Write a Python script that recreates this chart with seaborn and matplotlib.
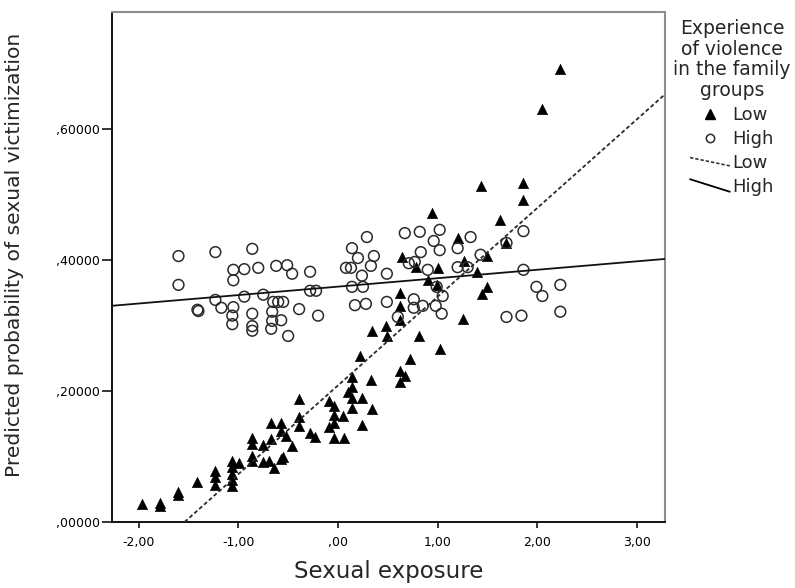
import numpy as np
import pandas as pd
import matplotlib
matplotlib.use("Agg")
import matplotlib.pyplot as plt
import seaborn as sns
from matplotlib.lines import Line2D
from matplotlib.legend_handler import HandlerBase

# ---------------- data ----------------
high_x = [-1.60, -1.60, -1.23, -0.86, -1.41, -1.23, -1.17, -1.05, -0.94, -0.80,
          -0.62, -0.51, -0.46, -0.28, -1.05, -1.05, -1.06, -1.06, -0.94, -0.86,
          -0.86, -0.75, -0.66, -0.66, -0.67, -0.65, -0.60, -0.55, -0.57, -0.50,
          -0.39, -0.28, -0.22, -0.20, 0.14, 0.20, 0.36, 0.29, 0.08, 0.13,
          0.33, 0.24, 0.14, 0.25, 0.17, 0.28, 0.49, 0.49, 0.67, 0.82,
          1.02, 0.96, 1.02, 0.83, 0.77, 0.71, 0.90, 0.99, 1.05, 0.76,
          0.76, 0.85, 0.98, 1.04, 0.60, 1.20, 1.33, 1.20, 1.30, 1.43,
          1.69, 1.86, 1.86, 1.99, 2.05, 2.23, 2.23, 1.69, 1.84, -1.40,
          -0.86]
high_y = [0.406, 0.362, 0.412, 0.417, 0.324, 0.339, 0.327, 0.385, 0.386, 0.388,
          0.391, 0.392, 0.379, 0.382, 0.369, 0.328, 0.315, 0.302, 0.344, 0.318,
          0.292, 0.347, 0.321, 0.307, 0.295, 0.336, 0.336, 0.336, 0.308, 0.284,
          0.325, 0.353, 0.353, 0.315, 0.418, 0.403, 0.406, 0.435, 0.388, 0.388,
          0.391, 0.376, 0.359, 0.359, 0.331, 0.333, 0.379, 0.336, 0.441, 0.443,
          0.446, 0.429, 0.415, 0.412, 0.397, 0.395, 0.385, 0.359, 0.345, 0.340,
          0.327, 0.330, 0.330, 0.318, 0.313, 0.418, 0.435, 0.389, 0.389, 0.408,
          0.426, 0.444, 0.385, 0.359, 0.345, 0.362, 0.321, 0.313, 0.315, 0.322,
          0.299]

low_x = [-1.97, -1.79, -1.79, -1.60, -1.60, -1.41, -1.23, -1.23, -1.23, -1.06,
         -1.06, -1.06, -1.06, -1.06, -0.99, -0.86, -0.86, -0.75, -0.86, -0.86,
         -0.75, -0.69, -0.64, -0.67, -0.57, -0.67, -0.57, -0.57, -0.52, -0.46,
         -0.55, -0.39, -0.39, -0.39, -0.28, -0.23, -0.09, -0.04, -0.04, 0.05,
         -0.04, -0.09, -0.04, 0.06, 0.14, 0.33, 0.14, 0.10, 0.14, 0.24,
         0.14, 0.34, 0.24, 0.22, 0.72, 0.62, 0.67, 0.62, 0.34, 0.48,
         0.49, 0.81, 1.02, 0.62, 0.62, 0.62, 0.64, 0.78, 1.00, 0.90,
         0.99, 0.94, 1.20, 1.26, 1.39, 1.49, 1.49, 1.44, 1.25, 1.69,
         1.62, 1.43, 1.86, 1.86, 2.05, 2.23]
low_y = [0.027, 0.029, 0.024, 0.041, 0.046, 0.061, 0.078, 0.069, 0.056, 0.093,
         0.084, 0.073, 0.064, 0.055, 0.090, 0.128, 0.119, 0.118, 0.101, 0.093,
         0.092, 0.093, 0.082, 0.127, 0.096, 0.151, 0.151, 0.139, 0.131, 0.116,
         0.099, 0.188, 0.160, 0.147, 0.136, 0.130, 0.185, 0.177, 0.163, 0.162,
         0.151, 0.145, 0.128, 0.128, 0.221, 0.217, 0.206, 0.198, 0.189, 0.189,
         0.174, 0.173, 0.148, 0.253, 0.249, 0.231, 0.223, 0.214, 0.292, 0.299,
         0.284, 0.284, 0.264, 0.350, 0.330, 0.308, 0.405, 0.389, 0.388, 0.369,
         0.362, 0.472, 0.434, 0.398, 0.382, 0.406, 0.359, 0.348, 0.310, 0.426,
         0.461, 0.513, 0.518, 0.492, 0.631, 0.692]

# fit lines (Low = dotted, High = solid)
group_names = ["Low", "High"]
fit_intercept = [0.2085, 0.3593]
fit_slope = [0.1355, 0.01289]

x_ticks = [-2, -1, 0, 1, 2, 3]
x_tick_labels = ["-2,00", "-1,00", ",00", "1,00", "2,00", "3,00"]
y_ticks = [0.0, 0.2, 0.4, 0.6]
y_tick_labels = [",00000", ",20000", ",40000", ",60000"]

legend_title = "Experience\nof violence\nin the family\ngroups"
x_label = "Sexual exposure"
y_label = "Predicted probability of sexual victimization"

# ---------------- plot ----------------
sns.set_style("white")
plt.rcParams["font.family"] = ["DejaVu Sans"]

df_low = pd.DataFrame({"exposure": low_x, "prob": low_y})
df_high = pd.DataFrame({"exposure": high_x, "prob": high_y})

fig = plt.figure(figsize=(7.95, 5.88), dpi=100)
ax = fig.add_axes([112 / 795, 66 / 588, 553 / 795, 510.3 / 588])
ax.set_xlim(-2.267, 3.280)
ax.set_ylim(0, 0.779)

sns.scatterplot(data=df_low, x="exposure", y="prob", marker="^", s=56,
                color="black", edgecolor="black", linewidth=0.4,
                ax=ax, zorder=2, legend=False)
sns.scatterplot(data=df_high, x="exposure", y="prob", marker="o", s=60,
                facecolor="none", edgecolor="#2a2a2a", linewidth=1.1,
                ax=ax, zorder=2, legend=False)

line_styles = [(0, (2.2, 1.4)), "-"]
line_colors = ["#2a2a2a", "#111111"]
for b, m, ls, c in zip(fit_intercept, fit_slope, line_styles, line_colors):
    ax.axline((0, b), slope=m, linestyle=ls, color=c, lw=1.3, zorder=3)

ax.set_xticks(x_ticks)
ax.set_xticklabels(x_tick_labels)
ax.set_yticks(y_ticks)
ax.set_yticklabels(y_tick_labels)
ax.tick_params(axis="x", direction="out", length=4, width=1.1, pad=6,
               labelsize=9, colors="black", bottom=True)
ax.tick_params(axis="y", direction="out", length=7, width=1.1, pad=1.5,
               labelsize=9, colors="black", left=True)

for side in ["left", "bottom"]:
    ax.spines[side].set_color("black")
    ax.spines[side].set_linewidth(1.3)
for side in ["top", "right"]:
    ax.spines[side].set_color("#8c8c8c")
    ax.spines[side].set_linewidth(1.5)

ax.set_xlabel(x_label, fontsize=16.5, labelpad=8)
ax.set_ylabel("")
fig.text(15 / 795, 1 - 255 / 588, y_label, rotation=90, fontsize=14.6,
         ha="center", va="center")


class DiagonalHandler(HandlerBase):
    def __init__(self, drop, **kw):
        super().__init__(**kw)
        self.drop = drop

    def create_artists(self, legend, orig_handle, xdescent, ydescent,
                       width, height, fontsize, trans):
        ym = height / 2 - ydescent
        line = Line2D([-xdescent, -xdescent + width],
                      [ym + self.drop / 2, ym - self.drop / 2])
        line.update_from(orig_handle)
        line.set_transform(trans)
        return [line]


h_low_pts = Line2D([], [], marker="^", color="black", linestyle="none",
                   markersize=6.5)
h_high_pts = Line2D([], [], marker="o", markerfacecolor="none",
                    markeredgecolor="#2a2a2a", markeredgewidth=1.1,
                    linestyle="none", markersize=6)
h_low_line = Line2D([], [], color="#333333", linestyle=(0, (2.0, 1.2)), lw=1.2)
h_high_line = Line2D([], [], color="black", lw=1.3)

leg = fig.legend(handles=[h_low_pts, h_high_pts, h_low_line, h_high_line],
                 labels=group_names + group_names,
                 title=legend_title, loc="upper center",
                 bbox_to_anchor=(732 / 795, 1 - 10 / 588), frameon=False,
                 fontsize=13, title_fontsize=13.5, handlelength=2.2,
                 handletextpad=0.15, labelspacing=0.32, borderpad=0,
                 handler_map={h_low_line: DiagonalHandler(6),
                              h_high_line: DiagonalHandler(9)})
leg.get_title().set_multialignment("center")
leg.get_title().set_linespacing(1.1)
leg._legend_box.sep = 5

fig.savefig("out.png", dpi=100, facecolor="white")
